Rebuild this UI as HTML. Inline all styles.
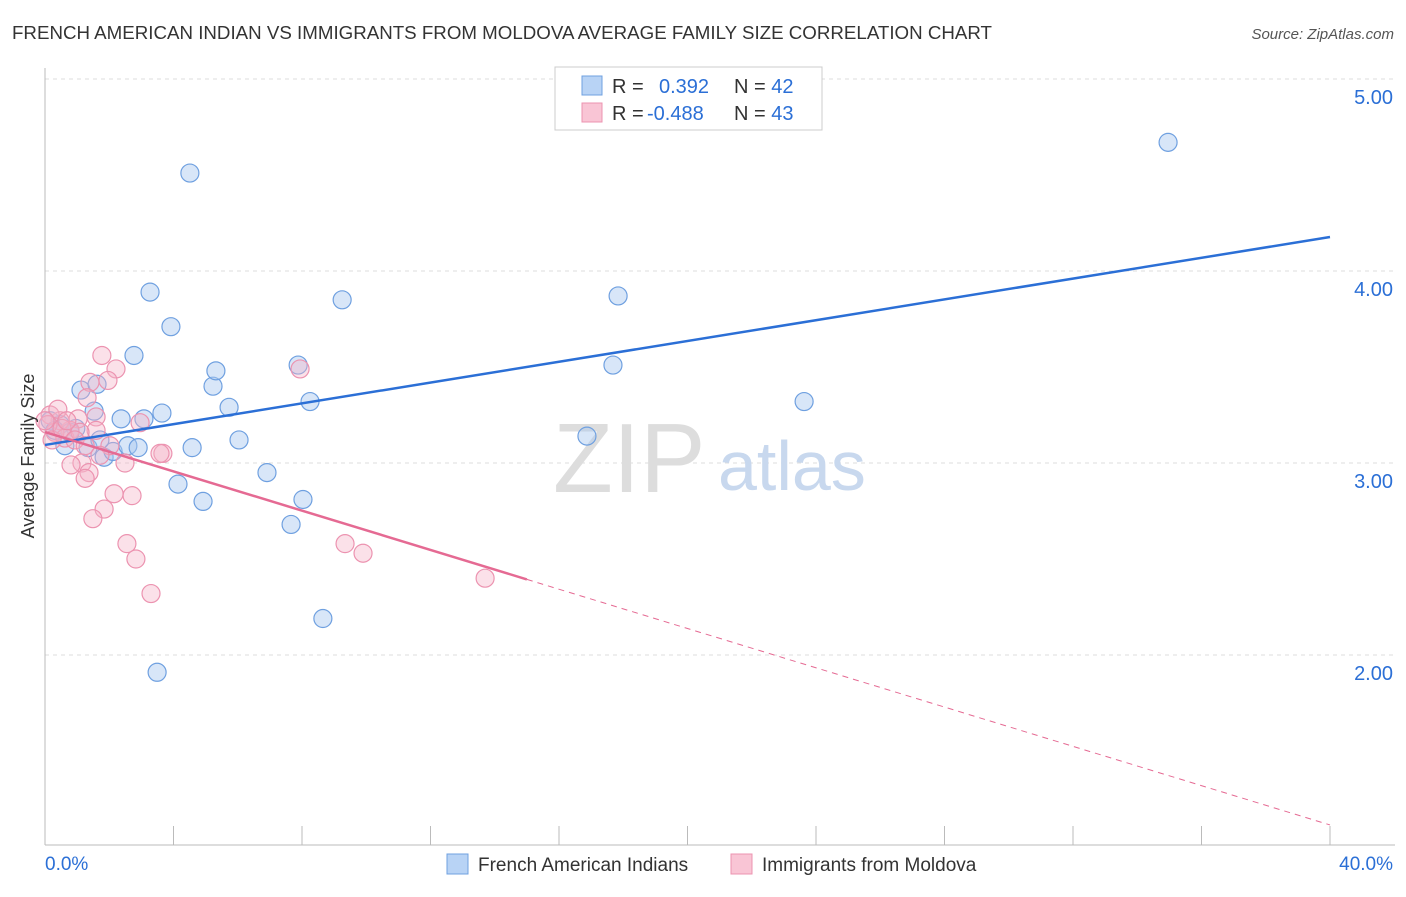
<!DOCTYPE html>
<html><head><meta charset="utf-8"><style>
body{margin:0;background:#fff;font-family:"Liberation Sans",sans-serif;}
svg text{font-family:"Liberation Sans",sans-serif;}
</style></head><body>
<svg width="1406" height="892" viewBox="0 0 1406 892" xmlns="http://www.w3.org/2000/svg">
<text x="12" y="39" font-size="18" fill="#333" textLength="980" lengthAdjust="spacingAndGlyphs">FRENCH AMERICAN INDIAN VS IMMIGRANTS FROM MOLDOVA AVERAGE FAMILY SIZE CORRELATION CHART</text>
<text x="1394" y="39" font-size="15" fill="#555" font-style="italic" text-anchor="end">Source: ZipAtlas.com</text>
<g id="grid"></g>
<g><text x="553" y="492" font-size="98" font-family="Liberation Serif" fill="#ddd">ZIP</text><text x="718" y="490" font-size="70" fill="#c8d8ee">atlas</text></g>
<g id="axes"></g>
<g id="pts"></g>
<g id="lines"></g>
<text x="34" y="456" font-size="18" fill="#333" text-anchor="middle" transform="rotate(-90 34 456)">Average Family Size</text>
<g>
<rect x="555" y="67" width="267" height="63" fill="#fff" stroke="#ccc"/>
<rect x="582" y="76" width="20" height="19" fill="#b8d3f5" stroke="#6fa0e0"/>
<rect x="582" y="103" width="20" height="19" fill="#f9c5d5" stroke="#ec93b0"/>
<text x="612" y="93" font-size="20" fill="#333">R = <tspan fill="#2b6fd6" x="659">0.392</tspan><tspan x="734" fill="#333">N = </tspan><tspan fill="#2b6fd6">42</tspan></text>
<text x="612" y="120" font-size="20" fill="#333">R = <tspan fill="#2b6fd6" x="647">-0.488</tspan><tspan x="734" fill="#333">N = </tspan><tspan fill="#2b6fd6">43</tspan></text>
</g>
<g>
<rect x="447" y="854" width="21" height="20" fill="#b8d3f5" stroke="#6fa0e0"/>
<text x="478" y="871" font-size="19" fill="#333">French American Indians</text>
<rect x="731" y="854" width="21" height="20" fill="#f9c5d5" stroke="#ec93b0"/>
<text x="762" y="871" font-size="19" fill="#333">Immigrants from Moldova</text>
</g>
</svg>
<script>
const blueX=[4.51,3.27,3.92,2.77,1.12,1.62,5.23,5.32,7.88,9.25,8.25,5.73,1.53,2.37,3.64,3.08,0.47,0.96,0.62,1.34,1.84,2.12,2.58,2.90,4.58,6.04,6.91,4.14,4.92,8.03,7.66,8.65,3.49,17.84,17.68,16.87,23.63,34.96,0.16,0.31,0.78,1.71];
const blueY=[4.51,3.89,3.71,3.56,3.38,3.41,3.40,3.48,3.51,3.85,3.32,3.29,3.27,3.23,3.26,3.23,3.20,3.18,3.09,3.08,3.03,3.06,3.09,3.08,3.08,3.12,2.95,2.89,2.80,2.81,2.68,2.19,1.91,3.87,3.51,3.14,3.32,4.67,3.22,3.17,3.16,3.12];
const pinkX=[1.77,2.21,1.96,1.40,1.31,7.94,1.59,1.03,1.59,0.78,0.47,0.16,0.31,0.62,1.09,2.02,2.96,3.67,3.58,1.15,0.81,2.49,1.37,1.25,2.15,2.71,1.84,1.49,2.55,2.83,3.30,9.34,9.90,13.70,0.09,0.22,0.53,0.93,1.25,1.71,0.40,0.00,0.68];
const pinkY=[3.56,3.49,3.43,3.42,3.34,3.49,3.24,3.23,3.17,3.17,3.22,3.25,3.16,3.13,3.16,3.09,3.21,3.05,3.05,3.00,2.99,3.00,2.95,2.92,2.84,2.83,2.76,2.71,2.58,2.50,2.32,2.58,2.53,2.40,3.20,3.12,3.18,3.12,3.09,3.04,3.28,3.22,3.22];
const blueTrend=[3.094,4.177];
const pinkTrend=[3.161,1.115];
const pinkSolidEnd=15.0;
const yTicks=[2,3,4,5];
const yTickLabels=["2.00","3.00","4.00","5.00"];
const xTicks=[0,4,8,12,16,20,24,28,32,36,40];
const NS="http://www.w3.org/2000/svg";
const xs=v=>45+v*(1285/40), ys=v=>79+(5-v)*192;
function mk(tag,attrs,parent){const e=document.createElementNS(NS,tag);for(const k in attrs)e.setAttribute(k,attrs[k]);document.getElementById(parent).appendChild(e);return e;}
yTicks.forEach((t,i)=>{
 const g=mk('line',{x1:45,x2:1395,y1:ys(t),y2:ys(t),stroke:'#ddd','stroke-dasharray':'4,4'},'grid');
 
 
 const l=mk('text',{x:1393,y:ys(t)+25,'font-size':20,fill:'#2b6fd6','text-anchor':'end'},'axes');
 l.textContent=yTickLabels[i];
 
 
});
let a=mk('line',{x1:45,x2:45,y1:68,y2:845,stroke:'#bbb'},'axes');


a=mk('line',{x1:45,x2:1395,y1:845,y2:845,stroke:'#bbb'},'axes');


xTicks.forEach(t=>{const e=mk('line',{x1:xs(t),x2:xs(t),y1:826,y2:845,stroke:'#bbb'},'axes');
 
 });
let tl=mk('text',{x:45,y:870,'font-size':19,fill:'#2b6fd6'},'axes');tl.textContent='0.0%';


tl=mk('text',{x:1393,y:870,'font-size':19,fill:'#2b6fd6','text-anchor':'end'},'axes');tl.textContent='40.0%';


blueX.forEach((x,i)=>{const c=mk('circle',{cx:xs(x),cy:ys(blueY[i]),r:9,fill:'rgba(168,200,240,0.45)',stroke:'#6fa0e0','stroke-width':1.2},'pts');
 
 });
pinkX.forEach((x,i)=>{const c=mk('circle',{cx:xs(x),cy:ys(pinkY[i]),r:9,fill:'rgba(245,180,200,0.4)',stroke:'#ec93b0','stroke-width':1.2},'pts');
 
 });
const bl=mk('line',{x1:xs(0),y1:ys(blueTrend[0]),x2:xs(40),y2:ys(blueTrend[1]),stroke:'#2b6fd6','stroke-width':2.5},'lines');


const pAt=x=>pinkTrend[0]+(pinkTrend[1]-pinkTrend[0])*x/40;
const pl=mk('line',{x1:xs(0),y1:ys(pAt(0)),x2:xs(pinkSolidEnd),y2:ys(pAt(pinkSolidEnd)),stroke:'#e56a93','stroke-width':2.5},'lines');


const pd=mk('line',{x1:xs(pinkSolidEnd),y1:ys(pAt(pinkSolidEnd)),x2:xs(40),y2:ys(pAt(40)),stroke:'#e56a93','stroke-width':1,'stroke-dasharray':'6,5'},'lines');


</script>
</body></html>
